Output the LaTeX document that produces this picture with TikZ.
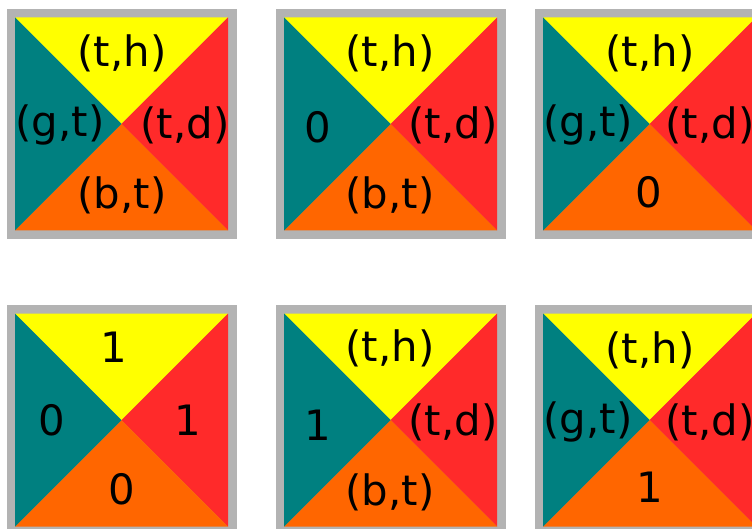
\documentclass[tikz,border=0pt]{standalone}
\usepackage{fontspec}
\setmainfont{DejaVu Sans}
\usepackage{tikz}

\definecolor{tileyellow}{HTML}{FFFF00}
\definecolor{tileteal}{HTML}{008080}
\definecolor{tilered}{HTML}{FF2A2A}
\definecolor{tileorange}{HTML}{FF6600}
\definecolor{tilegrey}{HTML}{B3B3B3}

% one square tile, centre given in px
\newcommand{\wangtile}[2]{%
    \fill[tilegrey] (#1-115,#2-115) rectangle (#1+115,#2+115);
    \fill[tileyellow] (#1-106.5,#2-106.5) -- (#1+106.5,#2-106.5) -- (#1,#2) -- cycle;
    \fill[tilered] (#1+106.5,#2-106.5) -- (#1+106.5,#2+106.5) -- (#1,#2) -- cycle;
    \fill[tileorange] (#1+106.5,#2+106.5) -- (#1-106.5,#2+106.5) -- (#1,#2) -- cycle;
    \fill[tileteal] (#1-106.5,#2+106.5) -- (#1-106.5,#2-106.5) -- (#1,#2) -- cycle;
}

\begin{document}
\begin{tikzpicture}[
    x=1bp, y=-1bp,
    edgelabel/.style={inner sep=0pt, text=black,
                      font=\fontsize{42}{42}\selectfont},
]
    \useasboundingbox (0,0) rectangle (752,529);
    \clip (0,0) rectangle (752,529);

    \wangtile{121.5}{124}
    \wangtile{390.5}{124}
    \wangtile{649.5}{124}
    \wangtile{121.5}{420}
    \wangtile{390.5}{420}
    \wangtile{649.5}{420}

    % top row
    \node[edgelabel] (th1) at (122,53) {(t,h)};
    \node[edgelabel] (gt1) at (60,125) {(g,t)};
    \node[edgelabel] (td1) at (185,125) {(t,d)};
    \node[edgelabel] (bt1) at (122,195) {(b,t)};

    \node[edgelabel] (th2) at (390,53) {(t,h)};
    \node[edgelabel] (gt2) at (318,127) {0};
    \node[edgelabel] (td2) at (453,125) {(t,d)};
    \node[edgelabel] (bt2) at (390,195) {(b,t)};

    \node[edgelabel] (th3) at (650,53) {(t,h)};
    \node[edgelabel] (gt3) at (588,125) {(g,t)};
    \node[edgelabel] (td3) at (710,125) {(t,d)};
    \node[edgelabel] (bt3) at (649,192) {0};

    % bottom row
    \node[edgelabel] (th4) at (114,347) {1};
    \node[edgelabel] (gt4) at (52,420) {0};
    \node[edgelabel] (td4) at (188,420) {1};
    \node[edgelabel] (bt4) at (122,489) {0};

    \node[edgelabel] (th5) at (390,348) {(t,h)};
    \node[edgelabel] (gt5) at (318,425) {1};
    \node[edgelabel] (td5) at (453,422) {(t,d)};
    \node[edgelabel] (bt5) at (390,492) {(b,t)};

    \node[edgelabel] (th6) at (650,350) {(t,h)};
    \node[edgelabel] (gt6) at (588,422) {(g,t)};
    \node[edgelabel] (td6) at (710,422) {(t,d)};
    \node[edgelabel] (bt6) at (650,487) {1};
\end{tikzpicture}
\end{document}
